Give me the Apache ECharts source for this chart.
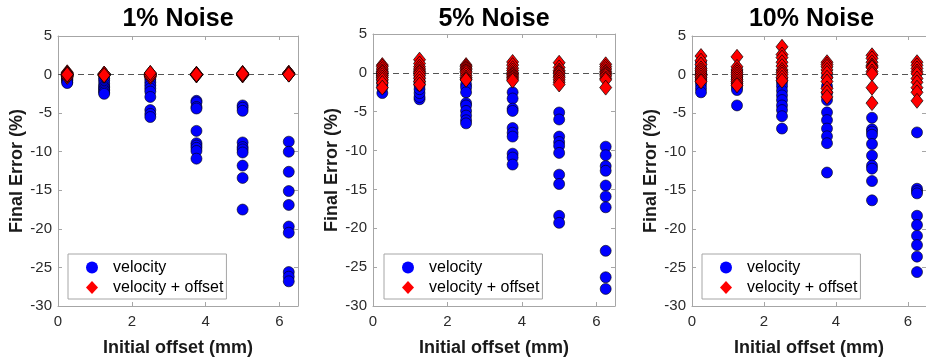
<!DOCTYPE html>
<html>
<head>
<meta charset="utf-8">
<script src="https://cdn.jsdelivr.net/npm/echarts@6/dist/echarts.min.js"></script>
<style>
html,body{margin:0;padding:0;background:#fff;}
#chart{width:926px;height:362px;}
</style>
</head>
<body>
<div id="chart"></div>
<script>
// ---- data ----
const offsets = [0.25, 1.25, 2.5, 3.75, 5, 6.25];
const panelTitles = ['1% Noise', '5% Noise', '10% Noise'];
const seriesNames = ['velocity', 'velocity + offset'];
const xTicks = [0, 2, 4, 6];
const yTicks = [-30, -25, -20, -15, -10, -5, 0, 5];

// velocity, 1% noise (one row per offset)
const vel1 = [
  [-0.1, -0.2, -0.3, -0.4, -0.5, -0.6, -0.7, -0.8, -1.0, -1.1],
  [-0.2, -0.5, -0.8, -1.2, -1.5, -1.7, -1.9, -2.1, -2.3, -2.5],
  [-0.3, -0.6, -1.0, -1.4, -1.8, -2.2, -2.9, -4.6, -5.1, -5.5],
  [-3.4, -3.6, -4.2, -4.4, -7.3, -8.9, -9.2, -9.5, -9.9, -10.9],
  [-4.0, -4.3, -4.7, -8.8, -9.4, -9.7, -10.1, -11.8, -13.4, -17.5],
  [-8.7, -10.0, -12.6, -15.1, -16.9, -19.7, -20.5, -25.6, -26.2, -26.8]
];
const off1 = [
  [0.3, 0.2, 0.1, 0.0, -0.1, -0.2, -0.3, 0.1, -0.1, 0.0],
  [0.1, 0.0, -0.1, 0.0, 0.1, -0.1, 0.0, 0.0, 0.1, -0.1],
  [0.2, 0.1, 0.0, -0.1, -0.2, -0.3, 0.1, 0.0, -0.1, 0.2],
  [0.0, 0.0, 0.1, -0.1, 0.0, 0.0, 0.1, -0.1, 0.0, 0.0],
  [0.2, 0.1, 0.0, -0.1, 0.0, 0.1, 0.2, -0.1, 0.0, 0.1],
  [0.2, 0.1, 0.0, 0.2, 0.1, 0.0, 0.1, 0.2, 0.1, 0.0]
];
// 5% noise
const vel5 = [
  [-2.6, -1.9, -1.6, -1.2, -0.9, -0.6, -0.4, -0.3, -0.1, 0.2],
  [-3.4, -3.1, -2.6, -2.1, -1.6, -1.3, -1.1, -0.6, -0.2, 0.3],
  [-0.8, -1.5, -1.9, -2.5, -3.9, -4.2, -4.9, -5.5, -6.1, -6.5],
  [-2.5, -3.3, -4.6, -4.9, -7.1, -7.7, -8.2, -10.4, -10.9, -11.8],
  [-5.1, -6.0, -8.2, -8.9, -9.4, -10.3, -13.1, -14.3, -18.4, -19.3],
  [-9.5, -10.6, -12.0, -12.6, -14.5, -15.9, -17.3, -22.9, -26.3, -27.8]
];
const off5 = [
  [1.0, 0.8, 0.5, 0.2, 0.0, -0.3, -0.6, -0.9, -1.3, -1.9],
  [1.7, 1.2, 0.8, 0.5, 0.2, 0.0, -0.3, -0.7, -1.1, -1.5],
  [1.0, 0.8, 0.6, 0.4, 0.2, 0.0, -0.3, -0.6, -0.8, -0.9],
  [1.4, 1.0, 0.6, 0.3, 0.0, -0.2, -0.4, -0.6, -0.8, -1.0],
  [1.3, 0.7, 0.3, 0.1, -0.1, -0.4, -0.6, -0.9, -1.2, -1.5],
  [1.1, 0.8, 0.5, 0.2, 0.0, -0.2, -0.4, -0.7, -0.9, -1.9]
];
// 10% noise
const vel10 = [
  [1.6, 1.0, 0.6, 0.2, -0.2, -0.5, -0.9, -1.3, -1.8, -2.3],
  [0.5, 0.1, -0.3, -0.6, -1.0, -1.2, -1.4, -1.7, -2.0, -4.0],
  [-0.5, -1.0, -1.5, -2.1, -2.7, -3.3, -4.0, -4.6, -5.4, -7.0],
  [-0.3, -1.5, -2.4, -3.3, -4.9, -5.9, -7.0, -8.0, -8.9, -12.7],
  [-5.6, -7.1, -7.4, -7.8, -9.0, -10.5, -11.8, -12.2, -13.8, -16.3],
  [-7.5, -14.8, -15.1, -15.4, -18.3, -19.5, -20.9, -22.1, -23.6, -25.6]
];
const off10 = [
  [2.4, 1.8, 1.3, 0.8, 0.5, 0.2, -0.1, -0.4, -0.7, -0.9],
  [2.3, 1.0, 0.6, 0.3, 0.0, -0.3, -0.6, -0.9, -1.2, -1.4],
  [3.6, 2.6, 2.2, 1.6, 1.1, 0.6, 0.3, 0.0, -0.4, -0.8],
  [1.6, 1.3, 1.0, 0.6, 0.2, -0.4, -0.9, -1.8, -2.3, -2.9],
  [2.5, 2.1, 1.6, 1.2, 1.0, 0.9, 0.4, 0.1, -1.7, -3.7],
  [1.6, 1.2, 0.8, 0.4, 0.1, -0.5, -1.0, -1.7, -2.3, -3.4]
];

const velData = [vel1, vel5, vel10];
const offData = [off1, off5, off10];

// ---- layout ----
const grids = [
  {left: 58, top: 36, width: 240, height: 274},
  {left: 373, top: 34, width: 242, height: 276},
  {left: 692, top: 36, width: 239, height: 274}
];
const legendLeft = [68, 384, 702];

function toPoints(rows) {
  const pts = [];
  rows.forEach((row, i) => row.forEach(v => pts.push([offsets[i], v])));
  return pts;
}

const axisColor = '#a6a6a6';
const labelColor = '#2b2b2b';
const font = 'Liberation Sans, Arial, Helvetica, sans-serif';

const option = {
  animation: false,
  backgroundColor: '#ffffff',
  title: [], grid: [], xAxis: [], yAxis: [], series: [], legend: []
};

grids.forEach((g, i) => {
  option.grid.push(Object.assign({containLabel: false}, g));
  option.title.push({
    text: panelTitles[i],
    left: g.left + g.width / 2,
    top: 7,
    textAlign: 'center',
    padding: 0,
    textStyle: {fontFamily: font, fontWeight: 'bold', fontSize: 25, color: '#000'}
  });
  // bottom x axis
  option.xAxis.push({
    type: 'value', gridIndex: i, min: 0, max: 6.5, interval: 2,
    position: 'bottom',
    name: 'Initial offset (mm)', nameLocation: 'middle', nameGap: 33,
    nameTextStyle: {fontFamily: font, fontWeight: 'bold', fontSize: 18, color: '#1a1a1a'},
    axisLine: {show: true, onZero: false, lineStyle: {color: axisColor, width: 1}},
    axisTick: {show: true, inside: true, length: 4, lineStyle: {color: axisColor}},
    axisLabel: {
      color: labelColor, fontFamily: font, fontSize: 15, margin: 8,
      showMaxLabel: false,
      formatter: v => (xTicks.indexOf(v) >= 0 ? String(v) : '')
    },
    splitLine: {show: false}
  });
  // top x axis (box)
  option.xAxis.push({
    type: 'value', gridIndex: i, min: 0, max: 6.5, interval: 2,
    position: 'top',
    axisLine: {show: true, onZero: false, lineStyle: {color: axisColor, width: 1}},
    axisTick: {show: true, inside: true, length: 4, lineStyle: {color: axisColor}},
    axisLabel: {show: false},
    splitLine: {show: false}
  });
  // left y axis
  option.yAxis.push({
    type: 'value', gridIndex: i, min: -30, max: 5, interval: 5,
    position: 'left',
    name: 'Final Error (%)', nameLocation: 'middle', nameGap: 31,
    nameTextStyle: {fontFamily: font, fontWeight: 'bold', fontSize: 18, color: '#1a1a1a'},
    axisLine: {show: true, onZero: false, lineStyle: {color: axisColor, width: 1}},
    axisTick: {show: true, inside: true, length: 4, lineStyle: {color: axisColor}},
    axisLabel: {
      color: labelColor, fontFamily: font, fontSize: 15, margin: 6,
      formatter: v => (yTicks.indexOf(v) >= 0 ? String(v) : '')
    },
    splitLine: {show: false}
  });
  // right y axis (box)
  option.yAxis.push({
    type: 'value', gridIndex: i, min: -30, max: 5, interval: 5,
    position: 'right',
    axisLine: {show: true, onZero: false, lineStyle: {color: axisColor, width: 1}},
    axisTick: {show: true, inside: true, length: 4, lineStyle: {color: axisColor}},
    axisLabel: {show: false},
    splitLine: {show: false}
  });

  option.series.push({
    name: seriesNames[0], type: 'scatter',
    xAxisIndex: 2 * i, yAxisIndex: 2 * i,
    symbol: 'circle', symbolSize: 11,
    itemStyle: {color: '#0000ff', borderColor: '#000', borderWidth: 0.6, opacity: 1},
    data: toPoints(velData[i]),
    z: 3,
    markLine: {
      silent: true, symbol: 'none', animation: false, z: 1,
      label: {show: false},
      lineStyle: {color: '#555', width: 1, type: [6, 4]},
      data: [{yAxis: 0}]
    }
  });
  option.series.push({
    name: seriesNames[1], type: 'scatter',
    xAxisIndex: 2 * i, yAxisIndex: 2 * i,
    symbol: 'diamond', symbolSize: [12, 15],
    itemStyle: {color: '#ff0000', borderColor: '#000', borderWidth: 0.7, opacity: 1},
    data: toPoints(offData[i]),
    z: 4
  });

  option.legend.push({
    left: legendLeft[i], top: 254,
    orient: 'vertical',
    backgroundColor: '#fff',
    borderColor: axisColor, borderWidth: 1, borderRadius: 0,
    padding: [5, 3, 3, 18],
    itemWidth: 12, itemHeight: 13, itemGap: 3,
    selectedMode: false,
    data: [
      {name: seriesNames[0], icon: 'circle', itemStyle: {color: '#0000ff', borderWidth: 0}},
      {name: seriesNames[1], icon: 'diamond', itemStyle: {color: '#ff0000', borderWidth: 0}}
    ],
    textStyle: {fontFamily: font, fontSize: 16, color: '#000', lineHeight: 17, padding: [0, 0, 0, 10]},
    z: 10
  });
});

const chart = echarts.init(document.getElementById('chart'), null, {renderer: 'canvas'});
chart.setOption(option);
</script>
</body>
</html>
